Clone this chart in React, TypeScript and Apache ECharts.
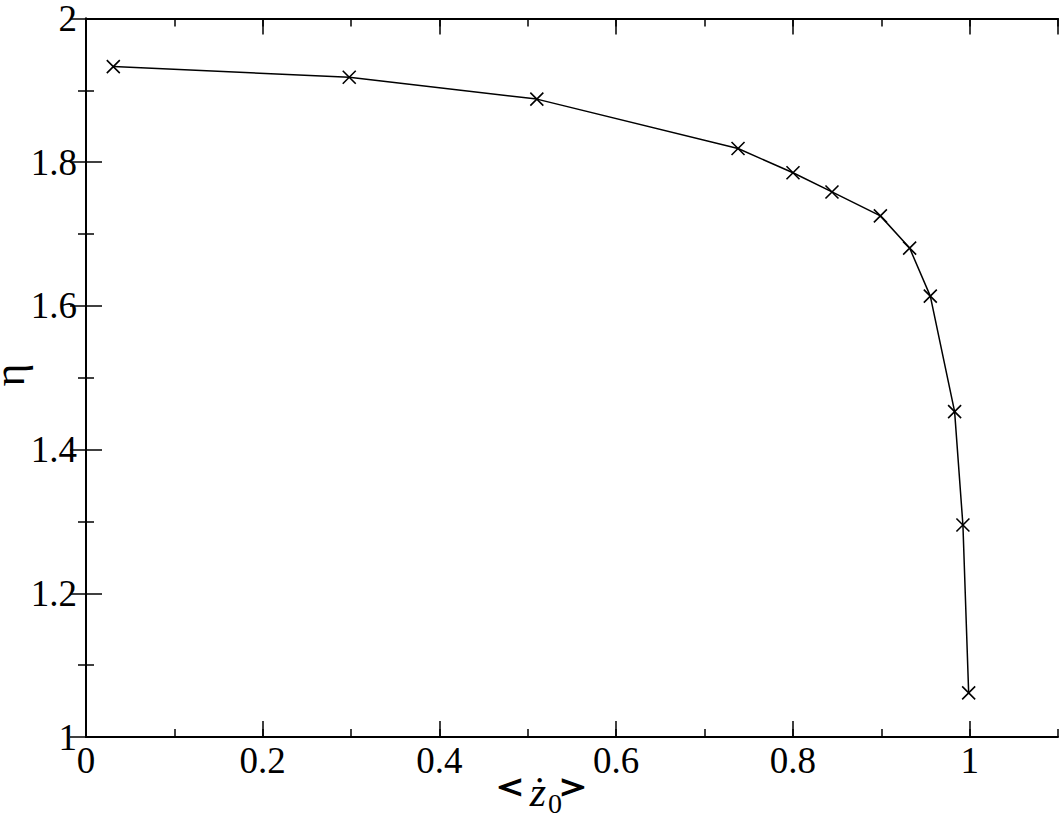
import React, { useEffect, useRef } from "react";
import * as echarts from "echarts";

const zDot: number[] = [0.0309, 0.2979, 0.5102, 0.7379, 0.8001, 0.8442, 0.899, 0.9321, 0.9555, 0.983, 0.9924, 0.9989];
const eta: number[] = [1.9331, 1.9183, 1.8878, 1.819, 1.7853, 1.7586, 1.7253, 1.6805, 1.6136, 1.4529, 1.295, 1.0614];

const X_MIN = 0;
const X_MAX = 1.1;
const Y_MIN = 1;
const Y_MAX = 2;

const FONT = "'Liberation Serif', 'Times New Roman', serif";

export default function App() {
  const ref = useRef<HTMLDivElement>(null);

  useEffect(() => {
    if (!ref.current) return;
    const chart = echarts.init(ref.current, null, { renderer: "svg" });
    const axisLine = { show: true, lineStyle: { color: "#000", width: 2 } };
    const tickStyle = { color: "#000", width: 1.5 };
    const baseX = (pos: string, interval: number, len: number, labels: boolean, line: boolean) => ({
      type: "value",
      position: pos,
      min: X_MIN,
      max: X_MAX,
      interval,
      axisLine: { ...axisLine, show: line },
      axisTick: { show: true, inside: true, length: len, lineStyle: tickStyle },
      axisLabel: labels
        ? { show: true, showMaxLabel: false, margin: 5, fontFamily: FONT, fontSize: 37, color: "#000" }
        : { show: false },
      splitLine: { show: false },
    });
    const baseY = (pos: string, labels: boolean) => ({
      type: "value",
      position: pos,
      min: Y_MIN,
      max: Y_MAX,
      interval: 0.2,
      axisLine,
      axisTick: { show: true, inside: true, length: 16, lineStyle: tickStyle },
      minorTick: { show: true, splitNumber: 2, length: 8, lineStyle: tickStyle },
      axisLabel: labels
        ? { show: true, margin: 9, fontFamily: FONT, fontSize: 37, color: "#000" }
        : { show: false },
      splitLine: { show: false },
      minorSplitLine: { show: false },
    });
    const data = zDot.map((x, i) => [x, eta[i]]);
    const txt = (text: string, x: number, y: number, size: number, extra: any = {}, scaleY = 1) => ({
      type: "text",
      x,
      y,
      scaleY,
      style: {
        text,
        fontFamily: FONT,
        fontSize: size,
        fill: "#000",
        align: "center",
        verticalAlign: "middle",
        ...extra,
      },
    });
    chart.setOption({
      animation: false,
      backgroundColor: "#fff",
      grid: { left: 86, top: 15, width: 972, height: 722, containLabel: false },
      xAxis: [
        baseX("bottom", 0.2, 16, true, true),
        baseX("bottom", 0.1, 8, false, false),
        baseX("top", 0.2, 16, false, true),
        baseX("top", 0.1, 8, false, false),
      ],
      yAxis: [baseY("left", true), baseY("right", false)],
      series: [
        {
          type: "line",
          xAxisIndex: 0,
          yAxisIndex: 0,
          data,
          symbol: "path://M0,0L10,10M10,0L0,10",
          symbolSize: 13,
          showAllSymbol: true,
          lineStyle: { color: "#000", width: 1.5 },
          itemStyle: { color: "none", borderColor: "#000", borderWidth: 1.6 },
        },
      ],
      graphic: [
        {
          type: "text",
          x: 9,
          y: 375,
          rotation: Math.PI / 2,
          style: {
            text: "η",
            fontFamily: FONT,
            fontSize: 44,
            fill: "#000",
            align: "center",
            verticalAlign: "middle",
          },
        },
        txt("<", 510, 787, 44, { fontWeight: "bold", stroke: "#000", lineWidth: 2 }, 0.72),
        txt("ż", 538, 792, 42, { fontStyle: "italic" }),
        txt("0", 555, 803, 28),
        txt(">", 573, 787, 44, { fontWeight: "bold", stroke: "#000", lineWidth: 2 }, 0.72),
      ],
    });
    return () => chart.dispose();
  }, []);

  return (
    <div
      ref={ref}
      style={{ position: "fixed", left: 0, top: 0, width: 1061, height: 817, background: "#fff" }}
    />
  );
}
